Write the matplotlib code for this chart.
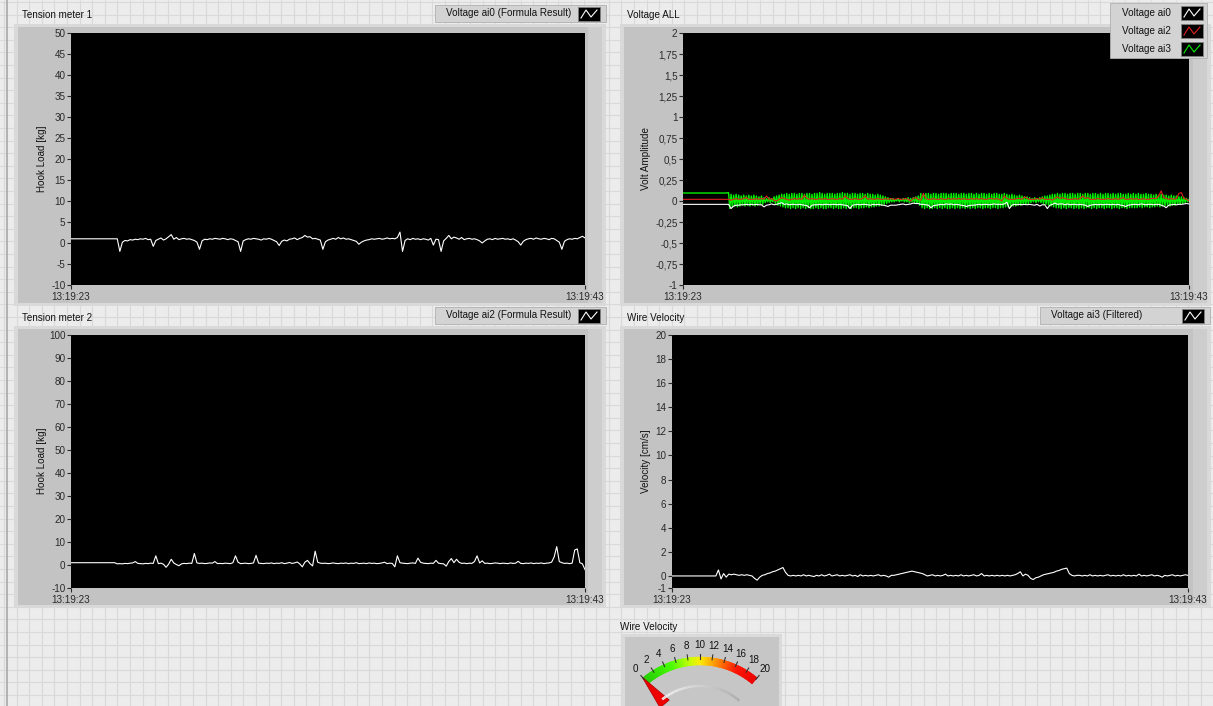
import numpy as np
import matplotlib
matplotlib.use("Agg")
import matplotlib.pyplot as plt
from matplotlib.patches import Rectangle, Wedge, Polygon
from matplotlib.colors import LinearSegmentedColormap

plt.rcParams['font.family'] = ['Liberation Sans', 'DejaVu Sans']

W, H = 1213, 706

# ---------------- data ----------------
# every trace holds its first value until ~1.7 s, then samples every 0.1 s up to 20 s
hold_until = 1.7
t = np.round(np.arange(1.8, 20.0001, 0.1), 1)
time_labels = ["13:19:23", "13:19:43"]

# Tension meter 1, hook load [kg]
tension1_start = 1.0
tension1 = [1.0, -2.0, 0.2, 0.6, 0.5, 0.8, 0.7, 0.9, 0.8, 1.0,
            0.9, 1.1, 0.8, 0.9, -0.8, 0.6, 0.9, 1.2, 0.7, 1.0,
            1.5, 2.0, 0.9, 1.3, 0.8, 1.0, 1.1, 0.9, 1.0, 0.8,
            0.6, 0.2, -1.5, 0.5, 0.9, 0.8, 1.0, 0.9, 1.1, 1.0,
            0.9, 1.1, 1.0, 0.8, 1.0, 0.9, 0.6, 0.3, -2.0, 0.5,
            0.8, 1.0, 0.9, 1.1, 1.0, 0.9, 0.7, 1.0, 0.9, 1.1,
            0.9, 0.6, 0.3, -0.6, 0.4, 0.7, 0.5, 0.9, 1.0, 1.2,
            0.8, 1.1, 1.3, 1.8, 1.4, 1.5, 1.0, 1.1, 0.9, 0.7,
            -1.5, 0.3, 0.7, 0.9, 1.1, 0.9, 1.3, 1.0, 1.2, 0.9,
            1.0, 0.8, 0.6, 0.4, -0.3, 0.2, 0.5, 0.7, 0.8, 1.0,
            0.9, 1.0, 1.1, 0.9, 1.0, 1.2, 1.0, 1.1, 1.0, 1.3,
            2.6, -2.0, 0.6, 1.0, 0.8, 1.1, 0.9, 1.0, 0.8, 1.0,
            0.9, 0.7, 1.1, -0.5, 0.9, 0.8, -2.0, 0.5, 1.1, 1.8,
            1.0, 1.4, 1.2, 0.9, 1.3, 0.8, 1.0, 1.1, 0.9, 1.0,
            0.8, 0.5, 0.0, 0.5, 0.9, 1.0, 0.8, 1.1, 0.9, 1.0,
            1.1, 0.9, 1.0, 0.8, 1.0, 0.7, 0.3, -0.5, 0.4, 0.8,
            1.0, 1.1, 0.9, 1.2, 1.0, 0.9, 1.1, 1.0, 0.8, 1.1,
            1.0, 0.6, 0.2, -1.5, 0.4, 0.8, 1.0, 0.9, 1.1, 1.0,
            1.3, 1.6, 1.2]

# Tension meter 2, hook load [kg]
tension2_start = 1.0
tension2 = [0.5, 0.6, 0.5, 0.7, 0.6, 0.8, 0.9, 1.5, 0.7, 0.6,
            0.5, 0.7, 0.6, 0.8, 0.7, 4.0, 0.6, 0.8, 0.3, -1.0,
            0.4, 2.5, 0.9, 0.2, -0.3, 0.5, 0.7, 0.6, 0.8, 0.7,
            5.0, 0.9, 0.7, 0.8, 0.6, 0.7, 0.9, 0.8, 1.5, 0.6,
            0.7, 0.6, 0.8, 0.7, 0.6, 1.0, 4.0, 1.2, 0.6, 0.7,
            0.8, 0.6, 0.7, 0.9, 4.2, 0.8, 0.7, 0.6, 0.8, 0.7,
            0.9, 0.6, 0.8, 0.7, 1.0, 0.6, 0.8, 1.1, 0.7, 0.9,
            1.3, 0.5, -0.8, 1.2, 2.0, 0.6, -0.4, 6.0, 1.2, 0.8,
            0.7, 0.8, 0.6, 0.7, 0.9, 0.7, 0.6, 0.8, 0.7, 0.9,
            0.6, 0.8, 0.7, 1.0, 0.6, 0.7, 0.8, 0.6, 0.9, 0.7,
            0.8, 0.6, 0.7, 0.9, 1.2, 0.6, 0.8, 0.7, -0.8, 4.0,
            1.0, 0.8, 0.7, 0.6, 0.8, 0.9, 0.7, 3.0, 1.2, 0.8,
            0.7, 0.6, 0.8, 0.7, 2.0, 0.8, 0.6, 0.5, -0.5, 1.5,
            2.8, 1.0, 2.5, 1.2, 0.7, 0.8, 0.6, 0.8, 0.7, 1.5,
            4.0, 0.9, 1.8, 0.7, 0.8, 0.6, 0.7, 0.9, 0.8, 0.6,
            0.8, 0.7, 0.6, 0.9, 0.7, 0.8, 1.6, 0.7, 0.6, 0.8,
            0.7, 0.9, 0.6, 0.8, 0.7, 0.9, 0.6, 0.8, 0.9, 1.2,
            3.5, 8.0, 1.5, 1.0, 0.7, 0.8, 0.6, 0.8, 6.5, 7.0,
            1.0, 0.5, -2.0]

# Wire velocity [cm/s]
velocity_start = 0.0
velocity = [0.5, -0.25, 0.2, -0.1, 0.15, 0.1, 0.15, 0.1, 0.05, 0.1,
            0.05, 0.1, 0.05, 0.0, -0.2, -0.35, -0.1, 0.05, 0.1, 0.2,
            0.25, 0.35, 0.4, 0.5, 0.6, 0.7, 0.3, 0.05, 0.0, 0.05,
            0.0, 0.05, 0.0, 0.1, 0.0, 0.05, 0.0, -0.05, 0.05, 0.0,
            0.1, 0.0, 0.05, 0.15, 0.0, 0.05, 0.1, 0.0, 0.05, 0.0,
            0.05, 0.1, 0.0, 0.05, -0.05, 0.1, 0.0, 0.05, 0.0, 0.05,
            0.0, 0.05, 0.1, 0.0, 0.05, 0.0, -0.1, 0.05, 0.05, 0.1,
            0.15, 0.2, 0.25, 0.3, 0.35, 0.4, 0.35, 0.3, 0.25, 0.2,
            0.1, 0.0, 0.05, 0.1, 0.0, 0.05, 0.0, 0.05, 0.15, 0.0,
            0.05, 0.0, 0.05, 0.0, 0.1, 0.0, 0.05, 0.0, 0.05, 0.1,
            0.0, 0.05, 0.2, 0.0, 0.05, 0.0, 0.05, 0.0, 0.05, 0.0,
            0.05, 0.0, 0.05, 0.0, 0.05, 0.1, 0.2, 0.35, 0.0, 0.15,
            0.05, -0.2, -0.3, -0.15, -0.1, 0.0, 0.1, 0.15, 0.2, 0.25,
            0.3, 0.4, 0.45, 0.55, 0.6, 0.65, 0.2, 0.05, 0.0, 0.05,
            0.05, 0.0, 0.05, 0.0, 0.1, 0.0, 0.05, 0.0, 0.05, 0.0,
            0.05, 0.1, 0.0, 0.05, 0.0, 0.05, 0.0, 0.1, 0.0, 0.05,
            0.0, 0.05, 0.0, 0.15, 0.0, 0.05, 0.0, 0.05, 0.1, 0.0,
            0.05, 0.0, -0.1, 0.05, 0.0, 0.05, 0.1, 0.0, 0.05, 0.0,
            0.05, 0.1, 0.05]

# Voltage ALL [V]
ai0_start = -0.04
ai0 = [-0.04, -0.09, -0.06, -0.05, -0.05, -0.045, -0.045, -0.04, -0.045, -0.04,
       -0.045, -0.04, -0.045, -0.045, -0.07, -0.05, -0.045, -0.035, -0.045, -0.04,
       -0.03, -0.02, -0.04, -0.035, -0.045, -0.04, -0.04, -0.045, -0.04, -0.045,
       -0.05, -0.055, -0.08, -0.05, -0.045, -0.045, -0.04, -0.045, -0.04, -0.04,
       -0.045, -0.04, -0.04, -0.045, -0.04, -0.045, -0.05, -0.055, -0.09, -0.05,
       -0.045, -0.04, -0.045, -0.04, -0.04, -0.045, -0.05, -0.04, -0.045, -0.04,
       -0.045, -0.05, -0.055, -0.065, -0.05, -0.05, -0.05, -0.045, -0.04, -0.035,
       -0.045, -0.04, -0.035, -0.025, -0.03, -0.03, -0.04, -0.04, -0.045, -0.05,
       -0.08, -0.055, -0.05, -0.045, -0.04, -0.045, -0.035, -0.04, -0.035, -0.045,
       -0.04, -0.045, -0.05, -0.055, -0.065, -0.055, -0.05, -0.05, -0.045, -0.04,
       -0.045, -0.04, -0.04, -0.045, -0.04, -0.035, -0.04, -0.04, -0.04, -0.035,
       -0.015, -0.09, -0.05, -0.04, -0.045, -0.04, -0.045, -0.04, -0.045, -0.04,
       -0.045, -0.05, -0.04, -0.06, -0.045, -0.045, -0.09, -0.05, -0.04, -0.025,
       -0.04, -0.035, -0.035, -0.045, -0.035, -0.045, -0.04, -0.04, -0.045, -0.04,
       -0.045, -0.05, -0.065, -0.05, -0.045, -0.04, -0.045, -0.04, -0.045, -0.04,
       -0.04, -0.045, -0.04, -0.045, -0.04, -0.05, -0.055, -0.065, -0.05, -0.045,
       -0.04, -0.04, -0.045, -0.035, -0.04, -0.045, -0.04, -0.04, -0.045, -0.04,
       -0.04, -0.05, -0.06, -0.08, -0.05, -0.045, -0.04, -0.045, -0.04, -0.04,
       -0.035, -0.03, -0.035]

ai2_start = 0.02
ai2 = [0.02, 0.01, 0.02, 0.03, 0.02, 0.02, 0.03, 0.04, 0.02, 0.02,
       0.02, 0.03, 0.02, 0.03, 0.02, 0.06, 0.02, 0.03, 0.01, 0.00,
       0.02, 0.04, 0.03, 0.02, 0.01, 0.02, 0.03, 0.02, 0.03, 0.02,
       0.07, 0.03, 0.02, 0.03, 0.02, 0.02, 0.03, 0.02, 0.03, 0.02,
       0.02, 0.03, 0.02, 0.02, 0.03, 0.02, 0.06, 0.03, 0.02, 0.02,
       0.03, 0.02, 0.02, 0.03, 0.06, 0.02, 0.03, 0.02, 0.02, 0.03,
       0.02, 0.02, 0.03, 0.02, 0.03, 0.02, 0.02, 0.03, 0.02, 0.02,
       0.03, 0.02, 0.00, 0.03, 0.04, 0.02, 0.01, 0.09, 0.03, 0.02,
       0.02, 0.03, 0.02, 0.02, 0.03, 0.02, 0.02, 0.03, 0.02, 0.03,
       0.02, 0.03, 0.02, 0.03, 0.02, 0.02, 0.03, 0.02, 0.03, 0.02,
       0.03, 0.02, 0.02, 0.03, 0.03, 0.02, 0.03, 0.02, 0.00, 0.06,
       0.03, 0.02, 0.02, 0.02, 0.03, 0.03, 0.02, 0.05, 0.03, 0.02,
       0.02, 0.02, 0.03, 0.02, 0.04, 0.02, 0.02, 0.02, 0.01, 0.03,
       0.05, 0.03, 0.04, 0.03, 0.02, 0.02, 0.02, 0.03, 0.02, 0.03,
       0.06, 0.03, 0.04, 0.02, 0.02, 0.02, 0.03, 0.02, 0.02, 0.02,
       0.03, 0.02, 0.02, 0.03, 0.02, 0.03, 0.04, 0.02, 0.02, 0.03,
       0.02, 0.03, 0.02, 0.02, 0.03, 0.02, 0.02, 0.03, 0.03, 0.03,
       0.06, 0.12, 0.04, 0.03, 0.02, 0.03, 0.02, 0.03, 0.09, 0.10,
       0.03, 0.02, 0.00]

# ai3 flickers fast: upper and lower turning points of each 0.1 s cycle
ai3_start = 0.095
ai3_hi = [0.10, 0.08, 0.07, 0.08, 0.07, 0.06, 0.07, 0.06, 0.07, 0.06,
          0.07, 0.06, 0.05, 0.06, 0.04, 0.03, 0.04, 0.03, 0.05, 0.06,
          0.07, 0.08, 0.08, 0.09, 0.08, 0.09, 0.09, 0.08, 0.09, 0.09,
          0.08, 0.09, 0.09, 0.08, 0.09, 0.09, 0.10, 0.09, 0.08, 0.09,
          0.09, 0.09, 0.08, 0.09, 0.09, 0.10, 0.09, 0.09, 0.08, 0.09,
          0.09, 0.08, 0.09, 0.09, 0.08, 0.09, 0.08, 0.08, 0.07, 0.08,
          0.07, 0.06, 0.05, 0.04, 0.03, 0.03, 0.02, 0.03, 0.02, 0.03,
          0.03, 0.04, 0.03, 0.04, 0.05, 0.06, 0.09, 0.08, 0.09, 0.09,
          0.08, 0.09, 0.09, 0.08, 0.09, 0.09, 0.09, 0.08, 0.09, 0.09,
          0.09, 0.08, 0.09, 0.09, 0.08, 0.09, 0.09, 0.08, 0.09, 0.08,
          0.09, 0.09, 0.08, 0.09, 0.08, 0.09, 0.09, 0.08, 0.08, 0.09,
          0.08, 0.07, 0.08, 0.07, 0.06, 0.07, 0.06, 0.05, 0.05, 0.04,
          0.03, 0.04, 0.03, 0.04, 0.05, 0.06, 0.06, 0.07, 0.08, 0.08,
          0.09, 0.08, 0.09, 0.09, 0.08, 0.09, 0.09, 0.08, 0.09, 0.09,
          0.08, 0.09, 0.09, 0.08, 0.09, 0.09, 0.08, 0.09, 0.08, 0.09,
          0.09, 0.08, 0.09, 0.08, 0.09, 0.09, 0.08, 0.08, 0.09, 0.08,
          0.09, 0.08, 0.09, 0.08, 0.08, 0.09, 0.08, 0.08, 0.07, 0.08,
          0.07, 0.08, 0.07, 0.07, 0.06, 0.07, 0.06, 0.06, 0.05, 0.05,
          0.04, 0.03, 0.02]
ai3_lo = [-0.09, -0.07, -0.06, -0.07, -0.06, -0.05, -0.06, -0.05, -0.06, -0.05,
          -0.06, -0.05, -0.04, -0.04, -0.02, -0.01, -0.02, -0.01, -0.03, -0.05,
          -0.06, -0.07, -0.08, -0.08, -0.09, -0.08, -0.09, -0.08, -0.09, -0.08,
          -0.09, -0.08, -0.09, -0.09, -0.08, -0.09, -0.08, -0.09, -0.09, -0.08,
          -0.08, -0.09, -0.08, -0.09, -0.09, -0.08, -0.09, -0.08, -0.09, -0.08,
          -0.08, -0.09, -0.08, -0.08, -0.07, -0.08, -0.07, -0.07, -0.06, -0.06,
          -0.05, -0.04, -0.03, -0.02, -0.01, -0.01, 0.00, -0.01, 0.00, -0.01,
          -0.01, -0.02, -0.01, -0.02, -0.03, -0.05, -0.08, -0.09, -0.08, -0.09,
          -0.09, -0.08, -0.09, -0.08, -0.09, -0.08, -0.09, -0.09, -0.08, -0.09,
          -0.08, -0.09, -0.08, -0.09, -0.08, -0.09, -0.08, -0.09, -0.08, -0.08,
          -0.09, -0.08, -0.08, -0.09, -0.08, -0.08, -0.09, -0.08, -0.08, -0.07,
          -0.07, -0.07, -0.06, -0.06, -0.05, -0.05, -0.04, -0.04, -0.03, -0.02,
          -0.01, -0.02, -0.01, -0.02, -0.03, -0.04, -0.05, -0.06, -0.07, -0.08,
          -0.08, -0.09, -0.08, -0.09, -0.08, -0.08, -0.09, -0.08, -0.09, -0.08,
          -0.09, -0.08, -0.08, -0.09, -0.08, -0.09, -0.08, -0.08, -0.09, -0.08,
          -0.08, -0.09, -0.08, -0.08, -0.09, -0.08, -0.08, -0.09, -0.08, -0.08,
          -0.08, -0.08, -0.07, -0.08, -0.07, -0.07, -0.08, -0.07, -0.07, -0.06,
          -0.07, -0.06, -0.06, -0.05, -0.06, -0.05, -0.05, -0.04, -0.04, -0.03,
          -0.02, -0.01, 0.00]

# gauge
gauge_ticks = [0, 2, 4, 6, 8, 10, 12, 14, 16, 18, 20]
gauge_value = 0.0


def frac(x0, y0, x1, y1):
    return [x0 / W, 1 - y1 / H, (x1 - x0) / W, (y1 - y0) / H]


def with_start(v0, vals):
    return np.concatenate([[0.0, hold_until], t]), np.concatenate([[v0, v0], vals])


fig = plt.figure(figsize=(W / 100, H / 100), dpi=100, facecolor='#ececec')

# background with the LabVIEW panel grid
bg = fig.add_axes([0, 0, 1, 1])
bg.set_xlim(0, W)
bg.set_ylim(H, 0)
bg.axis('off')
bg.vlines(np.arange(4, W, 12.6), 0, H, color='#d9d9d9', lw=0.8, zorder=0)
bg.hlines(np.arange(2, H, 12.6), 0, W, color='#d9d9d9', lw=0.8, zorder=0)
bg.vlines([7], 0, H, color='#a8a8a8', lw=1.2, zorder=0)

ov = fig.add_axes([0, 0, 1, 1], zorder=10)
ov.set_xlim(0, W)
ov.set_ylim(H, 0)
ov.axis('off')
ov.patch.set_alpha(0)

FS = 7.1


def panel(x0, y0, x1, y1):
    bg.add_patch(Rectangle((x0, y0), x1 - x0, y1 - y0, fc='#d9d9d9', ec='none', zorder=1))
    bg.add_patch(Rectangle((x0 + 4, y0 + 3), x1 - x0 - 8, y1 - y0 - 6, fc='#c3c3c3', ec='none', zorder=1))
    bg.add_patch(Rectangle((x1 - 18, y0 + 3), 14, y1 - y0 - 6, fc='#cdcdcd', ec='none', zorder=1))


def icon(x0, y0, color):
    ov.add_patch(Rectangle((x0, y0), 22, 14, fc='black', ec='#808080', lw=0.6))
    ov.plot([x0 + 3, x0 + 8, x0 + 13, x0 + 19], [y0 + 11, y0 + 3, y0 + 10, y0 + 3],
            color=color, lw=0.8)


def legend_row(x0, y0, x1, y1, label, color):
    ov.add_patch(Rectangle((x0, y0), x1 - x0, y1 - y0, fc='#d3d3d3', ec='#b0b0b0', lw=0.6))
    ov.text(x0 + 11, (y0 + y1) / 2, label, fontsize=FS, va='center', ha='left', color='#111')
    icon(x1 - 28, y0 + 2, color)


def style(ax, ylim, yticks, fmt=lambda v: f"{v:g}"):
    ax.set_facecolor('black')
    ax.set_xlim(0, 20)
    ax.set_ylim(*ylim)
    ax.set_yticks(yticks)
    ax.set_yticklabels([fmt(v) for v in yticks])
    ax.set_xticks([0, 20])
    ax.set_xticklabels(time_labels)
    for s in ax.spines.values():
        s.set_visible(False)
    ax.tick_params(axis='both', colors='#2a2a2a', labelsize=FS, length=3, width=0.8, pad=1)
    ax.tick_params(axis='x', length=3, pad=2)


# panels and titles
panel(14, 24, 606, 306)
panel(620, 24, 1211, 306)
panel(14, 326, 606, 608)
panel(620, 326, 1211, 608)

bg.text(22, 15, "Tension meter 1", fontsize=FS, va='center', ha='left', color='#111')
bg.text(627, 15, "Voltage ALL", fontsize=FS, va='center', ha='left', color='#111')
bg.text(22, 318, "Tension meter 2", fontsize=FS, va='center', ha='left', color='#111')
bg.text(627, 318, "Wire Velocity", fontsize=FS, va='center', ha='left', color='#111')
bg.text(620, 627, "Wire Velocity", fontsize=FS, va='center', ha='left', color='#111')

bg.text(42, 159, "Hook Load [kg]", fontsize=FS, rotation=90, va='center', ha='center', color='#111')
bg.text(646, 159, "Volt Amplitude", fontsize=FS, rotation=90, va='center', ha='center', color='#111')
bg.text(42, 461, "Hook Load [kg]", fontsize=FS, rotation=90, va='center', ha='center', color='#111')
bg.text(646, 461, "Velocity [cm/s]", fontsize=FS, rotation=90, va='center', ha='center', color='#111')

# Tension meter 1
ax1 = fig.add_axes(frac(71, 33, 585, 285))
x, y = with_start(tension1_start, tension1)
ax1.plot(x, y, color='white', lw=0.8)
style(ax1, (-10, 50), list(range(-10, 51, 5)))

# Voltage ALL
ax2 = fig.add_axes(frac(683, 33, 1189, 285))
tg = np.empty(2 * len(t))
tg[0::2] = t
tg[1::2] = t + 0.05
yg = np.empty(2 * len(t))
yg[0::2] = ai3_hi
yg[1::2] = ai3_lo
ax2.plot(np.concatenate([[0.0, hold_until], tg]), np.concatenate([[ai3_start, ai3_start], yg]),
         color='#00f000', lw=1.0)
x, y = with_start(ai0_start, ai0)
ax2.plot(x, y, color='white', lw=0.8)
x, y = with_start(ai2_start, ai2)
ax2.plot(x, y, color='#e02020', lw=0.8)
style(ax2, (-1, 2), list(np.arange(-1, 2.001, 0.25)),
      fmt=lambda v: f"{v:g}".replace('.', ','))

# Tension meter 2
ax3 = fig.add_axes(frac(71, 335, 585, 588))
x, y = with_start(tension2_start, tension2)
ax3.plot(x, y, color='white', lw=0.8)
style(ax3, (-10, 100), list(range(-10, 101, 10)))

# Wire velocity
ax4 = fig.add_axes(frac(672, 335, 1188, 588))
x, y = with_start(velocity_start, velocity)
ax4.plot(x, y, color='white', lw=0.8)
style(ax4, (-1, 20), [-1] + list(range(0, 21, 2)))

# legends
legend_row(435, 5, 606, 22, "Voltage ai0 (Formula Result)", 'white')
legend_row(435, 307, 606, 324, "Voltage ai2 (Formula Result)", 'white')
legend_row(1040, 307, 1210, 324, "Voltage ai3 (Filtered)", 'white')
ov.add_patch(Rectangle((1110, 3), 97, 55, fc='#d3d3d3', ec='#b0b0b0', lw=0.6))
for i, (lab, col) in enumerate([("Voltage ai0", 'white'), ("Voltage ai2", '#e02020'),
                                ("Voltage ai3", '#00ee00')]):
    yc = 13 + 18 * i
    ov.text(1122, yc, lab, fontsize=FS, va='center', ha='left', color='#111')
    icon(1181, yc - 7, col)

# gauge (y measured upward from the bottom of the image)
gax = fig.add_axes(frac(622, 634, 782, 706), zorder=5)
gax.set_xlim(622, 782)
gax.set_ylim(0, 72)
gax.axis('off')
gax.add_patch(Rectangle((622, 0), 160, 72, fc='#dadada', ec='none'))
gax.add_patch(Rectangle((625, 0), 154, 69, fc='#c6c6c6', ec='none'))
cx, cy = 700, 706 - 746


def ang(v):
    return 130 - 4 * v


cmap = LinearSegmentedColormap.from_list('g', [(0, '#22cc00'), (0.25, '#44ff00'),
                                               (0.42, '#ccff00'), (0.5, '#ffee00'),
                                               (0.6, '#ffaa00'), (0.72, '#ff5500'),
                                               (0.82, '#ff1100'), (1, '#ee0000')])
steps = np.arange(0, 20, 0.1)
for v in steps:
    gax.add_patch(Wedge((cx, cy), 89, ang(v + 0.1), ang(v), width=8,
                        fc=cmap(v / 20), ec=cmap(v / 20), lw=0.3))
for v in gauge_ticks:
    a = np.radians(ang(v))
    gax.plot([cx + 87 * np.cos(a), cx + 92 * np.cos(a)],
             [cy + 87 * np.sin(a), cy + 92 * np.sin(a)], color='#333', lw=0.8)
    gax.text(cx + 101 * np.cos(a), cy + 101 * np.sin(a), str(v), fontsize=FS,
             ha='center', va='center', color='#111')
# inner arc
arc_a = np.linspace(49, 129, 60)
for i in range(len(arc_a) - 1):
    shade = 0.97 - 0.3 * (1 - i / (len(arc_a) - 1))
    aa = np.radians(arc_a[i:i + 2])
    gax.plot(cx + 60 * np.cos(aa), cy + 60 * np.sin(aa), color=str(min(shade, 0.97)), lw=1.8,
             solid_capstyle='butt')
# needle
a = np.radians(ang(gauge_value))
d = np.array([np.cos(a), np.sin(a)])
p = np.array([np.sin(a), -np.cos(a)])
tip = np.array([cx, cy]) + 90 * d
base = np.array([cx, cy]) + 55 * d
gax.add_patch(Polygon([tip, base + 6 * p, base - 6 * p], closed=True, fc='#ee0000', ec='#aa0000', lw=0.5))

fig.savefig('out.png', dpi=100, facecolor=fig.get_facecolor())
